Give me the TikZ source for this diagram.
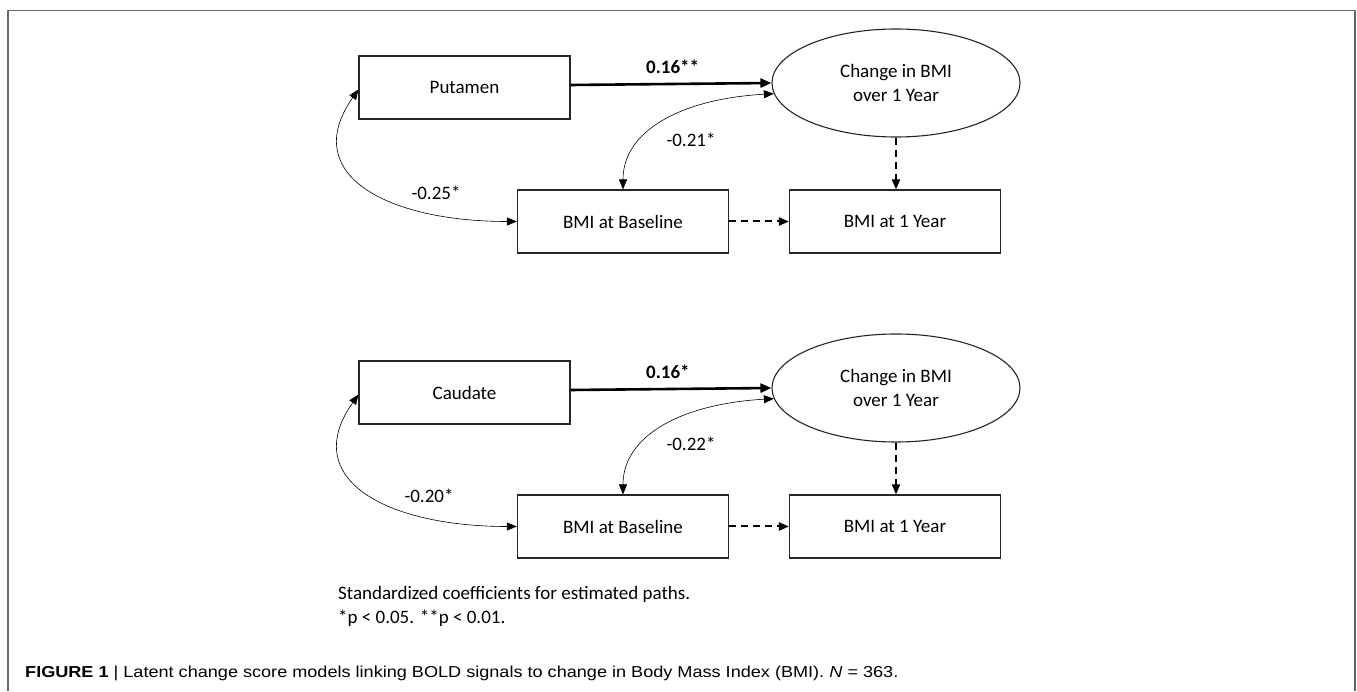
\documentclass[tikz,border=0pt]{standalone}
\usepackage{fontspec}
\setmainfont{Carlito}
\newfontfamily\capfont{Liberation Sans}
\usetikzlibrary{arrows.meta,shapes.geometric}
\begin{document}
\begin{tikzpicture}[x=1pt,y=1pt,
  txt/.style={font=\fontsize{19}{24}\selectfont},
  box/.style={txt,draw=black!85,line width=1.1pt,minimum width=211pt,minimum height=63pt,inner sep=0pt},
  latent/.style={txt,ellipse,draw=black!85,line width=1.1pt,minimum width=248pt,minimum height=108pt,inner sep=0pt,align=center},
  lbl/.style={txt,inner sep=0pt},
  reg/.style={line width=2.6pt,-{Triangle[length=11pt,width=9pt]}},
  cov/.style={line width=0.6pt,{Triangle[length=10pt,width=8pt]}-{Triangle[length=10pt,width=8pt]}},
  fixed/.style={line width=2pt,dash pattern=on 7pt off 5pt,-{Triangle[length=10pt,width=8pt]}},
  note/.style={txt,inner sep=0pt,anchor=base west},
]
\useasboundingbox (0,0) rectangle (1357,691);
\fill[white] (0,0) rectangle (1357,691);
% frame
\draw[black!60,line width=1.3pt] (8,0) -- (8,680.5) -- (1355,680.5) -- (1355,0);

% ---------- top model ----------
\node[box] (put) at (464.5,603.5) {Putamen};
\node[latent] (ell1) at (896,608) {Change in BMI\\over 1 Year};
\node[box] (base1) at (623,469.5) {BMI at Baseline};
\node[box] (yr1) at (895,469.5) {BMI at 1 Year};

\draw[reg] ([yshift=2.5pt]put.east) -- (ell1.west);
\draw[cov] ([yshift=-2pt]put.west) .. controls +(-60,-85) and +(-130,0) .. (base1.west);
\draw[cov] (base1.north) .. controls +(0,60) and +(-90,-5) .. (ell1.185);
\draw[fixed] (ell1.south) -- (ell1.south |- yr1.north);
\draw[fixed] (base1.east) -- (yr1.west);

\node[lbl,anchor=west] (c1) at (646,624) {\textbf{0.16**}};
\node[lbl] (r1) at (691,551) {-0.21*};
\node[lbl] (p1) at (436,498) {-0.25*};

% ---------- bottom model ----------
\node[box] (cau) at (464.5,298.5) {Caudate};
\node[latent] (ell2) at (896,303) {Change in BMI\\over 1 Year};
\node[box] (base2) at (623,164.5) {BMI at Baseline};
\node[box] (yr2) at (895,164.5) {BMI at 1 Year};

\draw[reg] ([yshift=2.5pt]cau.east) -- (ell2.west);
\draw[cov] ([yshift=-2pt]cau.west) .. controls +(-60,-85) and +(-130,0) .. (base2.west);
\draw[cov] (base2.north) .. controls +(0,60) and +(-90,-5) .. (ell2.185);
\draw[fixed] (ell2.south) -- (ell2.south |- yr2.north);
\draw[fixed] (base2.east) -- (yr2.west);

\node[lbl,anchor=west] (c2) at (646,319) {\textbf{0.16*}};
\node[lbl] (r2) at (691,247) {-0.22*};
\node[lbl] (p2) at (429,195) {-0.20*};

% ---------- notes ----------
\node[note] (n1) at (338,92) {Standardized coefficients for estimated paths.};
\node[note] (n2) at (338,68) {*p < 0.05. **p < 0.01.};

\node[inner sep=0pt,anchor=base west] (cap) at (25,14)
  {\resizebox{873pt}{11.5pt}{\capfont\textbf{FIGURE 1} | Latent change score models linking BOLD signals to change in Body Mass Index (BMI). \textit{N} = 363.}};
\end{tikzpicture}
\end{document}
